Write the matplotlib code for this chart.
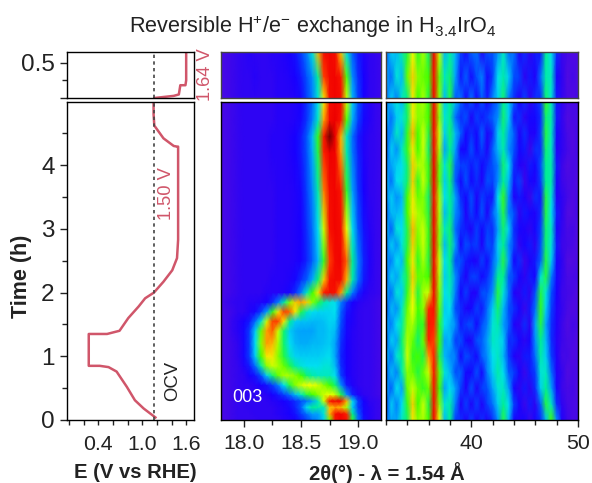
import numpy as np
import matplotlib
matplotlib.use("Agg")
import matplotlib.pyplot as plt
from matplotlib.colors import LinearSegmentedColormap

plt.rcParams['font.family'] = ['Liberation Sans', 'DejaVu Sans']
plt.rcParams['mathtext.fontset'] = 'custom'
plt.rcParams['mathtext.rm'] = 'Liberation Sans'
plt.rcParams['mathtext.default'] = 'regular'

# potential curve
E_low = [1.18, 1.02, 0.90, 0.79, 0.65, 0.54, 0.42, 0.27, 0.27, 0.52, 0.69, 0.81, 0.95, 1.04, 1.16,
         1.29, 1.41, 1.475, 1.49, 1.49, 1.475, 1.43, 1.29, 1.165, 1.155, 1.155]
t_low = [0.04, 0.18, 0.31, 0.52, 0.76, 0.83, 0.85, 0.85, 1.35, 1.35, 1.40, 1.60, 1.78, 1.91, 2.00,
         2.17, 2.35, 2.54, 2.83, 4.29, 4.29, 4.30, 4.42, 4.62, 4.80, 4.99]
E_up = [1.165, 1.43, 1.50, 1.52, 1.59, 1.60, 1.60]
t_up = [0.0, 0.03, 0.05, 0.18, 0.18, 0.25, 0.63]
E_ocv = 1.164

# 003 peak map, values in percent of the colour scale
theta_003 = [17.8 + 0.05 * i for i in range(29)]
t_003_up = [0.0, 0.3, 0.648]
map_003_up = [
    [6, 7, 8, 9, 10, 10, 10, 10, 10, 10, 11, 11, 11, 12, 14, 20, 28, 40, 66, 88, 92, 88, 62, 34, 20, 13, 10, 9, 8],
    [6, 7, 8, 9, 10, 10, 11, 10, 10, 10, 11, 11, 12, 13, 16, 22, 30, 45, 78, 90, 92, 84, 55, 30, 18, 13, 10, 9, 8],
    [6, 7, 8, 9, 10, 11, 10, 10, 10, 11, 11, 12, 13, 15, 20, 28, 40, 70, 88, 92, 88, 68, 38, 24, 16, 12, 10, 9, 8],
]
t_003 = [0.0, 0.1, 0.2, 0.3, 0.4, 0.55, 0.7, 0.85, 1.0, 1.2, 1.4, 1.55, 1.7, 1.85, 2.0, 2.2, 2.5, 3.0, 3.6, 4.2,
         4.45, 4.7, 5.0]
map_003 = [
    [6, 7, 8, 9, 9, 9, 9, 10, 10, 10, 10, 11, 12, 13, 16, 20, 26, 30, 36, 56, 84, 92, 86, 52, 26, 15, 11, 9, 8],
    [6, 7, 8, 9, 9, 9, 10, 10, 10, 10, 11, 12, 13, 15, 20, 26, 32, 32, 40, 70, 88, 92, 80, 46, 24, 14, 11, 9, 8],
    [6, 7, 8, 9, 9, 10, 10, 10, 10, 10, 11, 12, 14, 17, 24, 38, 46, 44, 42, 68, 72, 70, 60, 36, 20, 14, 11, 9, 8],
    [6, 7, 8, 9, 9, 10, 10, 10, 10, 11, 12, 13, 15, 18, 22, 26, 32, 42, 62, 86, 92, 90, 70, 38, 20, 13, 10, 9, 8],
    [6, 7, 8, 9, 10, 10, 10, 10, 11, 13, 16, 20, 26, 34, 42, 50, 54, 58, 62, 64, 62, 50, 30, 17, 12, 10, 9, 8, 7],
    [6, 7, 8, 9, 10, 10, 11, 13, 15, 20, 28, 38, 50, 58, 62, 64, 64, 62, 58, 54, 48, 30, 16, 12, 10, 9, 9, 8, 7],
    [6, 7, 8, 9, 10, 13, 15, 22, 36, 48, 56, 60, 60, 58, 54, 48, 44, 42, 42, 42, 38, 20, 13, 11, 10, 9, 9, 8, 7],
    [6, 7, 8, 9, 12, 16, 26, 44, 58, 62, 60, 56, 50, 44, 40, 38, 38, 38, 40, 40, 34, 18, 13, 11, 10, 9, 9, 8, 7],
    [6, 7, 8, 10, 14, 20, 36, 54, 66, 66, 58, 50, 42, 37, 36, 36, 36, 36, 37, 38, 32, 17, 13, 11, 10, 9, 9, 8, 7],
    [6, 7, 8, 10, 14, 20, 38, 58, 72, 70, 60, 48, 38, 34, 33, 33, 34, 34, 35, 36, 32, 18, 13, 11, 10, 9, 9, 8, 7],
    [6, 7, 9, 11, 14, 20, 36, 56, 72, 76, 62, 48, 36, 33, 32, 32, 32, 34, 34, 36, 34, 20, 14, 11, 10, 9, 9, 8, 7],
    [6, 7, 9, 11, 13, 16, 26, 40, 62, 78, 78, 66, 46, 36, 35, 35, 34, 34, 35, 37, 36, 22, 14, 12, 10, 9, 9, 8, 7],
    [6, 7, 8, 10, 10, 12, 14, 20, 32, 52, 66, 78, 76, 66, 50, 42, 38, 37, 37, 37, 38, 24, 15, 12, 10, 9, 9, 8, 7],
    [6, 8, 9, 10, 10, 11, 11, 12, 13, 18, 28, 44, 58, 68, 72, 68, 58, 50, 44, 40, 38, 28, 18, 13, 11, 10, 9, 8, 7],
    [6, 7, 8, 9, 10, 10, 10, 10, 11, 11, 11, 12, 14, 18, 28, 42, 54, 66, 82, 88, 86, 72, 46, 28, 17, 12, 10, 9, 8],
    [6, 7, 8, 9, 10, 10, 10, 10, 10, 11, 11, 11, 12, 14, 18, 24, 33, 48, 68, 86, 90, 88, 70, 44, 26, 16, 11, 9, 8],
    [6, 7, 8, 9, 10, 10, 10, 10, 10, 10, 11, 11, 11, 12, 13, 17, 24, 34, 52, 78, 90, 92, 76, 46, 28, 17, 12, 9, 8],
    [6, 7, 8, 9, 10, 10, 10, 10, 10, 10, 11, 11, 11, 12, 13, 18, 26, 38, 62, 86, 92, 88, 64, 38, 23, 15, 11, 9, 8],
    [6, 7, 8, 9, 10, 10, 10, 10, 10, 10, 11, 11, 11, 12, 14, 20, 29, 44, 74, 89, 92, 84, 52, 32, 19, 13, 10, 9, 8],
    [6, 7, 8, 9, 10, 10, 10, 10, 10, 11, 11, 11, 12, 13, 16, 22, 33, 50, 80, 94, 92, 72, 44, 27, 17, 12, 10, 9, 8],
    [6, 7, 8, 9, 10, 10, 10, 10, 10, 11, 11, 11, 12, 13, 16, 23, 34, 52, 84, 100, 94, 70, 42, 26, 16, 12, 10, 9, 8],
    [6, 7, 8, 9, 10, 10, 10, 10, 10, 10, 11, 11, 11, 12, 14, 19, 28, 42, 72, 90, 94, 84, 55, 33, 20, 14, 11, 9, 8],
    [6, 7, 8, 9, 10, 10, 10, 10, 10, 10, 11, 11, 11, 12, 13, 18, 26, 38, 66, 88, 92, 88, 62, 36, 22, 15, 11, 9, 8],
]

# wide angle map
theta_wide = [32 + 0.5 * k for k in range(37)]
t_wide_up = [0.0, 0.3, 0.648]
map_wide_up = [
    [26, 36, 28, 42, 46, 66, 54, 60, 50, 90, 58, 34, 50, 24, 26, 14, 26, 14, 24, 16, 28, 36, 48, 28, 18, 12, 20, 10, 18, 18, 48, 40, 16, 9, 6, 5, 7],
    [32, 26, 40, 34, 56, 68, 58, 56, 54, 88, 56, 42, 48, 32, 16, 24, 14, 22, 28, 14, 20, 38, 44, 36, 22, 20, 10, 16, 12, 26, 44, 42, 14, 10, 5, 7, 5],
    [24, 36, 34, 44, 50, 64, 52, 60, 48, 92, 62, 34, 44, 34, 20, 14, 24, 26, 12, 22, 22, 30, 42, 26, 26, 12, 18, 10, 16, 16, 46, 38, 18, 8, 7, 5, 6],
]
t_wide = [0.0, 0.25, 0.5, 0.75, 1.0, 1.25, 1.5, 1.75, 2.0, 2.25, 2.5, 2.75, 3.0, 3.25, 3.5, 3.75, 4.0, 4.25, 4.5, 4.75, 5.0]
map_wide = [
    [26, 32, 32, 42, 48, 66, 58, 60, 54, 90, 64, 34, 46, 20, 18, 12, 20, 12, 18, 12, 18, 30, 50, 34, 14, 12, 14, 8, 14, 18, 34, 54, 30, 12, 8, 6, 7],
    [20, 36, 28, 38, 52, 68, 54, 62, 50, 88, 58, 40, 44, 28, 12, 20, 12, 20, 12, 20, 26, 36, 46, 38, 20, 14, 8, 16, 10, 24, 50, 42, 18, 10, 7, 6, 6],
    [32, 24, 38, 32, 56, 62, 56, 52, 56, 86, 54, 32, 38, 32, 20, 12, 22, 12, 20, 22, 32, 40, 42, 32, 14, 10, 16, 10, 18, 36, 46, 32, 14, 8, 6, 7, 5],
    [24, 34, 28, 44, 58, 56, 50, 56, 62, 84, 56, 40, 34, 22, 24, 14, 14, 22, 14, 28, 36, 44, 38, 24, 20, 14, 8, 16, 20, 40, 42, 26, 12, 9, 5, 6, 6],
    [34, 26, 40, 46, 62, 52, 54, 50, 72, 80, 50, 34, 30, 28, 14, 22, 18, 14, 24, 30, 38, 42, 34, 20, 12, 10, 16, 16, 26, 44, 36, 20, 12, 7, 7, 5, 6],
    [24, 36, 32, 48, 60, 56, 48, 56, 80, 78, 54, 32, 34, 20, 22, 14, 12, 22, 24, 32, 42, 40, 36, 18, 18, 14, 10, 14, 30, 46, 34, 18, 11, 8, 6, 6, 5],
    [32, 28, 38, 44, 58, 60, 52, 52, 84, 80, 52, 38, 34, 30, 16, 20, 22, 14, 22, 28, 40, 44, 32, 24, 12, 10, 18, 10, 32, 50, 32, 18, 12, 8, 5, 7, 6],
    [22, 34, 30, 42, 56, 64, 54, 58, 80, 86, 56, 36, 38, 22, 18, 12, 14, 20, 16, 26, 36, 48, 34, 22, 18, 14, 8, 16, 26, 52, 36, 20, 12, 9, 6, 5, 6],
    [32, 26, 40, 36, 52, 66, 50, 60, 62, 90, 58, 38, 42, 28, 14, 20, 12, 12, 22, 22, 30, 50, 40, 26, 12, 10, 16, 10, 22, 50, 40, 22, 13, 8, 7, 6, 5],
    [24, 36, 32, 42, 50, 68, 56, 56, 54, 92, 60, 36, 44, 30, 18, 12, 20, 20, 14, 18, 26, 46, 46, 24, 20, 14, 10, 16, 14, 40, 50, 28, 14, 9, 6, 6, 7],
    [30, 28, 38, 34, 54, 66, 52, 60, 50, 90, 62, 38, 46, 22, 22, 16, 14, 12, 20, 14, 24, 34, 50, 32, 14, 18, 8, 12, 16, 24, 50, 36, 14, 10, 5, 5, 6],
    [26, 36, 30, 40, 50, 68, 56, 62, 52, 92, 58, 34, 48, 32, 14, 22, 18, 20, 12, 22, 20, 36, 46, 30, 20, 10, 14, 16, 10, 22, 48, 40, 16, 8, 7, 6, 5],
    [34, 24, 40, 38, 50, 70, 58, 62, 52, 90, 58, 42, 48, 26, 18, 16, 12, 20, 14, 20, 18, 32, 48, 36, 18, 14, 12, 10, 14, 20, 48, 42, 14, 9, 6, 7, 5],
    [24, 34, 34, 36, 54, 66, 60, 58, 50, 92, 60, 34, 46, 30, 22, 12, 20, 14, 22, 12, 24, 34, 50, 28, 22, 10, 16, 14, 12, 18, 50, 38, 16, 10, 5, 5, 7],
    [28, 36, 30, 34, 54, 66, 56, 58, 48, 88, 60, 38, 46, 32, 18, 14, 22, 12, 20, 16, 16, 38, 52, 30, 12, 16, 12, 8, 18, 16, 50, 40, 12, 10, 7, 5, 7],
    [34, 26, 38, 40, 48, 68, 52, 62, 52, 92, 56, 36, 48, 24, 14, 22, 14, 18, 12, 22, 20, 30, 46, 34, 16, 20, 8, 14, 12, 20, 46, 44, 14, 8, 6, 6, 5],
    [28, 32, 36, 38, 48, 68, 60, 60, 52, 92, 56, 40, 50, 26, 20, 20, 16, 20, 14, 18, 22, 28, 48, 38, 18, 12, 10, 16, 14, 22, 46, 44, 16, 8, 5, 6, 6],
    [22, 36, 30, 42, 52, 66, 54, 62, 48, 90, 60, 32, 46, 32, 14, 14, 22, 14, 20, 12, 24, 34, 44, 30, 22, 14, 16, 8, 18, 18, 48, 42, 12, 10, 7, 5, 7],
    [26, 30, 42, 34, 52, 70, 54, 62, 50, 90, 62, 36, 48, 34, 24, 14, 18, 14, 24, 12, 18, 36, 46, 32, 24, 12, 18, 12, 12, 20, 50, 42, 14, 10, 6, 5, 7],
    [34, 26, 36, 40, 48, 66, 58, 58, 54, 92, 58, 40, 46, 26, 18, 22, 12, 20, 16, 20, 24, 30, 48, 36, 16, 18, 10, 14, 14, 18, 48, 44, 16, 9, 5, 6, 6],
    [28, 34, 40, 34, 50, 66, 58, 60, 52, 88, 60, 36, 46, 34, 24, 16, 22, 14, 22, 14, 20, 26, 46, 36, 24, 13, 18, 10, 16, 20, 52, 42, 16, 10, 7, 6, 7],
]

xrd_cmap = LinearSegmentedColormap.from_list("xrd", [
    (0.00, "#7010d0"), (0.13, "#1800ff"), (0.22, "#0050ff"), (0.30, "#0090ff"),
    (0.38, "#00e0f0"), (0.46, "#00f090"), (0.54, "#40ff00"), (0.64, "#f0ff00"),
    (0.72, "#ffa000"), (0.80, "#ff2000"), (0.94, "#f00000"), (1.00, "#700000")])

W, H = 592, 483
fig = plt.figure(figsize=(W / 100, H / 100), dpi=100)


# axes from pixel box of the reference (y counted from the top)
def box(x0, y0, x1, y1):
    return fig.add_axes([x0 / W, 1 - y1 / H, (x1 - x0) / W, (y1 - y0) / H])


ax_up = box(67, 52, 193.5, 98)
ax_low = box(67, 102, 193.5, 420)
ax_m_up = box(221, 52, 381, 98)
ax_m_low = box(221, 102, 381, 420)
ax_r_up = box(386, 52, 578, 98)
ax_r_low = box(386, 102, 578, 420)

red = "#d0566a"
ax_up.plot(E_up, t_up, color=red, lw=1.8)
ax_low.plot(E_low, t_low, color=red, lw=1.8)
for ax in (ax_up, ax_low):
    ax.axvline(E_ocv, color="#444444", lw=1.2, ls=(0, (2, 2)))
    ax.set_xlim(-0.027, 1.70)

ax_up.set_ylim(0, 0.648)
ax_up.set_yticks([0, 0.5], ["", "0.5"])
ax_up.set_yticks([0.25], minor=True)
ax_up.set_xticks([])
ax_low.set_ylim(0, 4.99)
ax_low.set_yticks([0, 1, 2, 3, 4])
ax_low.set_yticks([0.5, 1.5, 2.5, 3.5, 4.5], minor=True)
ax_low.set_xticks([0.4, 1.0, 1.6], ["0.4", "1.0", "1.6"])
ax_low.set_xticks([0, 0.2, 0.6, 0.8, 1.2, 1.4], minor=True)

ax_m_up.pcolormesh(theta_003, t_003_up, np.array(map_003_up), cmap=xrd_cmap, vmin=0, vmax=100, shading="gouraud")
ax_m_low.pcolormesh(theta_003, t_003, np.array(map_003), cmap=xrd_cmap, vmin=0, vmax=100, shading="gouraud")
ax_r_up.pcolormesh(theta_wide, t_wide_up, np.array(map_wide_up), cmap=xrd_cmap, vmin=0, vmax=100, shading="gouraud")
ax_r_low.pcolormesh(theta_wide, t_wide, np.array(map_wide), cmap=xrd_cmap, vmin=0, vmax=100, shading="gouraud")

for ax in (ax_m_up, ax_m_low):
    ax.set_xlim(17.8, 19.2)
for ax in (ax_r_up, ax_r_low):
    ax.set_xlim(32, 50)
for ax in (ax_m_up, ax_r_up, ax_m_low, ax_r_low):
    ax.set_yticks([])
for ax in (ax_m_up, ax_r_up):
    ax.set_xticks([])
    ax.set_ylim(0, 0.648)
    for s in ax.spines.values():
        s.set_color("#444444")
for ax in (ax_m_low, ax_r_low):
    ax.set_ylim(0, 4.99)

ax_m_low.set_xticks([18.0, 18.5, 19.0], ["18.0", "18.5", "19.0"])
ax_m_low.set_xticks([18.25, 18.75], minor=True)
ax_r_low.set_xticks([40, 50], ["40", "50"])
ax_r_low.set_xticks([32, 34, 36, 38, 42, 44, 46, 48], minor=True)

for ax in (ax_up, ax_low, ax_m_up, ax_m_low, ax_r_up, ax_r_low):
    ax.tick_params(which="major", length=5, width=1, labelsize=15.3, pad=5, color="#222222", labelcolor="#222222")
    ax.tick_params(which="minor", length=3.5, width=1, color="#222222")
    for s in ax.spines.values():
        s.set_linewidth(1.0)
for ax in (ax_up, ax_low):
    ax.tick_params(axis="y", which="major", labelsize=17.5, pad=4)
ax_low.tick_params(axis="x", which="both", length=3.5)
ax_low.tick_params(axis="x", which="major", pad=7)
ax_m_low.tick_params(axis="x", which="major", pad=5)

ax_low.text(1.41, 0.3, "OCV", color="#222222", fontsize=13.3, rotation=90, ha="center", va="bottom")
ax_low.text(1.33, 3.55, "1.50 V", color=red, fontsize=13.2, rotation=90, ha="center", va="center")
fig.text(205 / W, 1 - 75 / H, "1.64 V", color=red, fontsize=13.2, rotation=90, ha="center", va="center")
fig.text(247 / W, 1 - 397 / H, "003", color="white", fontsize=13, ha="center", va="center")

fig.text(313 / W, 1 - 27 / H, "Reversible H$^{+}$/e$^{-}$ exchange in H$_{3.4}$IrO$_{4}$", fontsize=15.6,
         color="#222222", ha="center", va="center")
fig.text(21 / W, 1 - 276 / H, "Time (h)", fontsize=15.5, fontweight="bold", rotation=90, color="#222222",
         ha="center", va="center")
fig.text(135.5 / W, 1 - 473 / H, "E (V vs RHE)", fontsize=14.6, fontweight="bold", color="#222222",
         ha="center", va="center")
fig.text(387 / W, 1 - 473 / H, "2θ(°) - λ = 1.54 Å", fontsize=14.6, fontweight="bold", color="#222222",
         ha="center", va="center")

fig.savefig("out.png", dpi=100)
plt.close(fig)
